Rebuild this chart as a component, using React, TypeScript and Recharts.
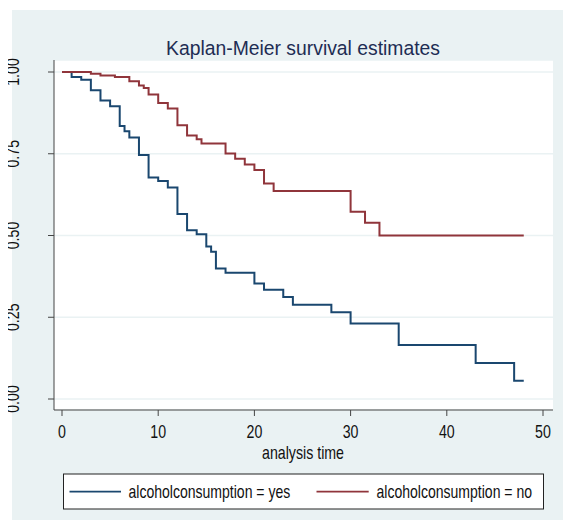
import React from "react";
import { LineChart, Line, XAxis, YAxis, CartesianGrid } from "recharts";

// analysis time / survival estimate
const yesTime = [0, 1, 2, 3, 4, 5, 6, 6.5, 7, 8, 9, 10, 11, 12, 13, 14, 15, 15.5, 16, 17, 20, 21, 23, 24, 28, 30, 35, 43, 47, 48];
const yesSurv = [1, 0.985, 0.976, 0.944, 0.913, 0.895, 0.835, 0.819, 0.8, 0.746, 0.677, 0.667, 0.647, 0.566, 0.516, 0.504, 0.466, 0.45, 0.399, 0.386, 0.353, 0.334, 0.312, 0.288, 0.265, 0.231, 0.165, 0.11, 0.056, 0.056];

const noTime = [0, 3, 4, 5.5, 7, 8, 8.5, 9, 10, 11, 12, 13, 14, 14.5, 17, 18, 19, 20, 21, 22, 30, 31.5, 33, 48];
const noSurv = [1, 0.995, 0.989, 0.985, 0.972, 0.959, 0.951, 0.931, 0.905, 0.888, 0.837, 0.806, 0.794, 0.781, 0.751, 0.735, 0.717, 0.7, 0.659, 0.636, 0.573, 0.539, 0.5, 0.5];

const xTicks = [0, 10, 20, 30, 40, 50];
const yTicks = [0, 0.25, 0.5, 0.75, 1];

const seriesNames = ["alcoholconsumption = yes", "alcoholconsumption = no"];
const title = "Kaplan-Meier survival estimates";
const xTitle = "analysis time";

const BLUE = "#1a476f";
const RED = "#90353b";
const BG = "#eaf2f3";
const FONT = "'Liberation Sans', Arial, sans-serif";
const SQUEEZE = 0.78;

const yesData = yesTime.map((t, i) => ({ t, s: yesSurv[i] }));
const noData = noTime.map((t, i) => ({ t, s: noSurv[i] }));

const XTick = (props: any) => {
  const { x, payload } = props;
  return (
    <text
      transform={`translate(${x},438) scale(${SQUEEZE},1)`}
      textAnchor="middle"
      fontSize={18.2}
      fontFamily={FONT}
      fill="#111"
    >
      {payload.value}
    </text>
  );
};

const YTick = (props: any) => {
  const { y, payload, index } = props;
  const id = `yclip${index}`;
  return (
    <g>
      <defs>
        <clipPath id={id} clipPathUnits="userSpaceOnUse">
          <rect x={8} y={0} width={100} height={520} />
        </clipPath>
      </defs>
      <g clipPath={`url(#${id})`}>
        <text
          transform={`translate(18.5,${y}) rotate(-90) scale(${SQUEEZE},1)`}
          textAnchor="middle"
          fontSize={18.2}
          fontFamily={FONT}
          fill="#111"
        >
          {Number(payload.value).toFixed(2)}
        </text>
      </g>
    </g>
  );
};

export default function App() {
  return (
    <div style={{ position: "absolute", left: 0, top: 0, width: 563, height: 520 }}>
      {/* backdrop, title, axis title and legend */}
      <svg width={563} height={520} style={{ position: "absolute", left: 0, top: 0 }}>
        <rect x={12} y={10} width={551} height={510} fill={BG} />
        <text
          x={303}
          y={54.5}
          textAnchor="middle"
          fontSize={20.5}
          fontFamily={FONT}
          fill="#1e2d53"
          textLength={274}
          lengthAdjust="spacingAndGlyphs"
        >
          {title}
        </text>
        <text
          transform={`translate(303,459) scale(${SQUEEZE},1)`}
          textAnchor="middle"
          fontSize={18.2}
          fontFamily={FONT}
          fill="#111"
        >
          {xTitle}
        </text>
        <rect x={63.5} y={474} width={480} height={35} fill="#fff" stroke="#222" strokeWidth={1} />
        <line x1={69.5} x2={121} y1={491.7} y2={491.7} stroke={BLUE} strokeWidth={1.8} />
        <text
          transform={`translate(128.5,498.2) scale(${SQUEEZE},1)`}
          fontSize={18}
          fontFamily={FONT}
          fill="#111"
        >
          {seriesNames[0]}
        </text>
        <line x1={316.5} x2={368.7} y1={491.7} y2={491.7} stroke={RED} strokeWidth={1.8} />
        <text
          transform={`translate(376.5,498.2) scale(${SQUEEZE},1)`}
          fontSize={18}
          fontFamily={FONT}
          fill="#111"
        >
          {seriesNames[1]}
        </text>
      </svg>

      <div style={{ position: "absolute", left: 0, top: 0 }}>
        <LineChart width={563} height={520} margin={{ top: 60, right: 10, bottom: 0, left: 0 }}>
          <CartesianGrid vertical={false} fill="#fff" stroke={BG} strokeWidth={1.5} />
          <XAxis
            type="number"
            dataKey="t"
            domain={[0, 50]}
            ticks={xTicks}
            padding={{ left: 8, right: 10 }}
            height={110}
            tickSize={6}
            axisLine={{ stroke: "#444" }}
            tickLine={{ stroke: "#444" }}
            tick={<XTick />}
            allowDuplicatedCategory={false}
          />
          <YAxis
            type="number"
            dataKey="s"
            domain={[0, 1]}
            ticks={yTicks}
            padding={{ top: 12, bottom: 11 }}
            width={54}
            tickSize={6}
            axisLine={{ stroke: "#444" }}
            tickLine={{ stroke: "#444" }}
            tick={<YTick />}
          />
          <Line
            data={yesData}
            dataKey="s"
            type="stepAfter"
            stroke={BLUE}
            strokeWidth={2}
            dot={false}
            isAnimationActive={false}
          />
          <Line
            data={noData}
            dataKey="s"
            type="stepAfter"
            stroke={RED}
            strokeWidth={2}
            dot={false}
            isAnimationActive={false}
          />
        </LineChart>
      </div>
    </div>
  );
}
